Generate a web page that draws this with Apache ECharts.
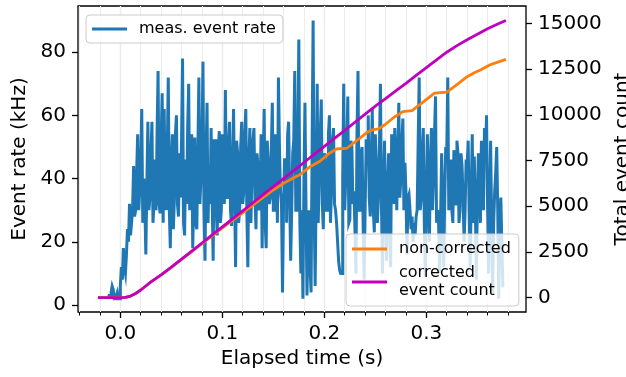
<!DOCTYPE html>
<html>
<head>
<meta charset="utf-8">
<script src="https://cdn.jsdelivr.net/npm/echarts@6/dist/echarts.min.js"></script>
<style>
  html, body { margin: 0; padding: 0; background: #fff; }
  #chart { width: 626px; height: 377px; }
</style>
</head>
<body>
<div id="chart"></div>
<script>
// ---- data ----
// measured event rate (kHz), sampled every 1 ms starting at t = -0.012 s
var rateStart = -0.012;
var rateStep = 0.001;
var rateValues = [
  2, 2, 3, 3, 4, 6, 5, 2, 2, 3,
  4, 2, 2, 6, 12, 8, 18, 12, 10, 16,
  24, 20, 32, 22, 26, 30, 44, 28, 30, 42,
  54, 30, 36, 46, 62, 26, 40, 32, 16, 38,
  58, 30, 34, 48, 58, 26, 32, 46, 30, 54,
  74, 32, 29, 52, 67, 26, 62, 34, 30, 48,
  72, 30, 18, 46, 54, 24, 34, 54, 60, 32,
  28, 48, 34, 52, 78, 26, 22, 46, 32, 56,
  70, 30, 36, 54, 18, 34, 53, 26, 24, 48,
  72, 32, 40, 50, 77, 30, 14, 46, 64, 26,
  42, 32, 56, 34, 14, 52, 52, 30, 22, 48,
  55, 26, 30, 54, 46, 32, 68, 34, 34, 50,
  58, 30, 25, 46, 62, 34, 12, 52, 48, 26,
  30, 50, 58, 32, 36, 54, 62, 30, 12, 46,
  56, 26, 40, 52, 56, 34, 24, 48, 44, 30,
  32, 54, 18, 44, 62, 26, 18, 52, 46, 32,
  34, 48, 64, 30, 30, 54, 48, 26, 72, 50,
  36, 32, 4, 32, 46, 46, 26, 54, 58, 34,
  14, 30, 48, 52, 74, 30, 30, 52, 84, 26,
  10, 30, 2, 40, 64, 32, 3, 20, 30, 12,
  4, 50, 90, 30, 6, 36, 70, 26, 40, 54,
  65, 32, 24, 48, 46, 30, 30, 54, 60, 26,
  36, 52, 56, 32, 30, 26, 20, 14, 11, 10,
  10, 40, 70, 30, 40, 48, 66, 26, 27, 52,
  50, 32, 36, 24, 10, 54, 74, 30, 30, 48,
  50, 26, 8, 30, 52, 52, 60, 34, 28, 46,
  62, 30, 23, 54, 44, 26, 34, 50, 70, 32,
  10, 36, 52, 30, 14, 38, 48, 26, 12, 54,
  48, 32, 56, 46, 30, 48, 64, 34, 40, 52,
  59, 30, 45, 36, 16, 34, 35, 30, 24, 28,
  20, 26, 22, 28, 30, 52, 72, 30, 34, 48,
  56, 26, 9, 34, 54, 32, 20, 46, 56, 30,
  40, 54, 66, 26, 30, 26, 10, 28, 48, 32,
  12, 34, 50, 48, 72, 30, 44, 46, 30, 26,
  49, 32, 32, 52, 48, 26, 30, 48, 44, 34,
  20, 30, 46, 44, 52, 30, 12, 34, 54, 26,
  47, 32, 8, 32, 48, 36, 26, 52, 48, 30,
  56, 46, 60, 32, 10, 30, 52, 26, 4, 26,
  36, 42, 50, 30, 2, 24, 34, 20, 6
];

// corrected total event count
var correctedTime = [-0.022, -0.010, 0.000, 0.005, 0.010, 0.015, 0.020, 0.025, 0.030, 0.040,
  0.050, 0.060, 0.070, 0.080, 0.090, 0.100, 0.110, 0.120, 0.130, 0.140,
  0.150, 0.160, 0.170, 0.180, 0.190, 0.200, 0.210, 0.220, 0.230, 0.240,
  0.250, 0.260, 0.270, 0.280, 0.290, 0.300, 0.310, 0.320, 0.330, 0.340,
  0.350, 0.360, 0.370, 0.378];
var correctedCount = [0, 0, 0, 20, 90, 230, 420, 640, 860, 1250,
  1670, 2110, 2550, 2990, 3430, 3870, 4310, 4750, 5190, 5630,
  6070, 6510, 6950, 7390, 7830, 8270, 8710, 9150, 9590, 10030,
  10470, 10880, 11300, 11720, 12150, 12580, 13000, 13420, 13780, 14100,
  14400, 14700, 14960, 15150];

// non-corrected total event count
var rawTime = [-0.022, 0.000, 0.005, 0.010, 0.015, 0.020, 0.025, 0.030, 0.040, 0.050,
  0.060, 0.070, 0.080, 0.090, 0.100, 0.110, 0.120, 0.130, 0.140, 0.150,
  0.160, 0.170, 0.176, 0.186, 0.196, 0.205, 0.212, 0.222, 0.232, 0.241,
  0.247, 0.253, 0.259, 0.268, 0.277, 0.286, 0.297, 0.308, 0.320, 0.330,
  0.340, 0.347, 0.353, 0.362, 0.370, 0.378];
var rawCount = [0, 0, 20, 90, 230, 420, 640, 860, 1250, 1660,
  2090, 2520, 2950, 3380, 3810, 4230, 4640, 5060, 5480, 5890,
  6250, 6560, 6720, 7160, 7470, 7900, 8130, 8170, 8600, 9000,
  9180, 9230, 9440, 9850, 10170, 10230, 10700, 11180, 11240, 11650,
  12080, 12300, 12450, 12720, 12880, 13030];

// tick labels
var xMajorTicks = [0.0, 0.1, 0.2, 0.3];
var xMinorTicks = [-0.04, -0.02, 0.0, 0.02, 0.04, 0.06, 0.08, 0.10, 0.12, 0.14, 0.16, 0.18,
  0.20, 0.22, 0.24, 0.26, 0.28, 0.30, 0.32, 0.34, 0.36, 0.38];
var rateTicks = [0, 20, 40, 60, 80];
var countTicks = [0, 2500, 5000, 7500, 10000, 12500, 15000];

// ---- build ----
var rateData = rateValues.map(function (v, i) {
  return [+(rateStart + i * rateStep).toFixed(3), v];
});
var corrData = correctedTime.map(function (t, i) { return [t, correctedCount[i]]; });
var rawData = rawTime.map(function (t, i) { return [t, rawCount[i]]; });

var FONT = 'DejaVu Sans';
var XMIN = -0.0415, XMAX = 0.3977;

var chart = echarts.init(document.getElementById('chart'), null, { renderer: 'canvas' });
var option = {
  animation: false,
  backgroundColor: '#ffffff',
  textStyle: { fontFamily: FONT },
  grid: {
    left: 78, right: 100, top: 6, bottom: 65,
    outerBoundsMode: 'none', containLabel: false,
    show: true, borderColor: '#000', borderWidth: 1.3, backgroundColor: 'transparent'
  },
  legend: [
    {
      data: ['meas. event rate'],
      left: 86, top: 15,
      orient: 'vertical',
      icon: 'rect', itemWidth: 35, itemHeight: 3,
      padding: [5, 7, 5, 6],
      backgroundColor: 'rgba(255,255,255,0.8)',
      borderColor: '#cccccc', borderWidth: 1, borderRadius: 4,
      selectedMode: false,
      textStyle: { fontFamily: FONT, fontSize: 16, color: '#000', lineHeight: 18, padding: [0, 0, 0, 7] }
    },
    {
      data: ['non-corrected', 'corrected\nevent count'],
      left: 346, top: 234,
      orient: 'vertical',
      icon: 'rect', itemWidth: 35, itemHeight: 3,
      itemGap: 6,
      padding: [6, 8, 6, 6],
      backgroundColor: 'rgba(255,255,255,0.8)',
      borderColor: '#cccccc', borderWidth: 1, borderRadius: 4,
      selectedMode: false,
      textStyle: { fontFamily: FONT, fontSize: 16, color: '#000', lineHeight: 18, padding: [0, 0, 0, 7] }
    }
  ],
  xAxis: [
    {
      type: 'value', min: XMIN, max: XMAX, position: 'bottom',
      axisLine: { show: false, onZero: false },
      axisTick: { show: true, customValues: xMajorTicks, length: 6, lineStyle: { color: '#000', width: 1.3 } },
      axisLabel: {
        customValues: xMajorTicks, formatter: function (v) { return v.toFixed(1); },
        fontFamily: FONT, fontSize: 20, color: '#000', margin: 12
      },
      splitLine: { show: true, lineStyle: { color: '#dcdcdc', width: 1.3 } },
      name: 'Elapsed time (s)', nameLocation: 'middle', nameGap: 37,
      nameTextStyle: { fontFamily: FONT, fontSize: 20, color: '#000' }
    },
    {
      type: 'value', min: XMIN, max: XMAX, position: 'bottom',
      axisLine: { show: false, onZero: false },
      axisTick: { show: true, customValues: xMinorTicks, length: 3.5, lineStyle: { color: '#000', width: 1 } },
      axisLabel: { show: false },
      splitLine: { show: true, lineStyle: { color: '#ececec', width: 1 } }
    }
  ],
  yAxis: [
    {
      type: 'value', min: -2.2, max: 94.6, position: 'left',
      axisLine: { show: false, onZero: false },
      axisTick: { show: true, customValues: rateTicks, length: 6, lineStyle: { color: '#000', width: 1.3 } },
      axisLabel: { customValues: rateTicks, fontFamily: FONT, fontSize: 20, color: '#000', margin: 12 },
      splitLine: { show: false },
      name: 'Event rate (kHz)', nameLocation: 'middle', nameGap: 48, nameRotate: 90,
      nameTextStyle: { fontFamily: FONT, fontSize: 20, color: '#000' }
    },
    {
      type: 'value', min: -782, max: 15946, position: 'right',
      axisLine: { show: false, onZero: false },
      axisTick: { show: true, customValues: countTicks, length: 6, lineStyle: { color: '#000', width: 1.3 } },
      axisLabel: {
        customValues: countTicks, formatter: function (v) { return String(v); },
        fontFamily: FONT, fontSize: 20, color: '#000', margin: 12
      },
      splitLine: { show: false },
      name: 'Total event count', nameLocation: 'middle', nameGap: 84, nameRotate: 90,
      nameTextStyle: { fontFamily: FONT, fontSize: 20, color: '#000' }
    }
  ],
  series: [
    {
      name: 'meas. event rate', type: 'line', xAxisIndex: 0, yAxisIndex: 0,
      data: rateData, showSymbol: false, symbol: 'none', step: 'start',
      lineStyle: { color: '#1f77b4', width: 3, join: 'miter' },
      itemStyle: { color: '#1f77b4' }, z: 2
    },
    {
      name: 'non-corrected', type: 'line', xAxisIndex: 0, yAxisIndex: 1,
      data: rawData, showSymbol: false, symbol: 'none',
      lineStyle: { color: '#ff7f0e', width: 2.8 },
      itemStyle: { color: '#ff7f0e' }, z: 3
    },
    {
      name: 'corrected\nevent count', type: 'line', xAxisIndex: 0, yAxisIndex: 1,
      data: corrData, showSymbol: false, symbol: 'none',
      lineStyle: { color: '#bf00bf', width: 2.8 },
      itemStyle: { color: '#bf00bf' }, z: 3
    }
  ]
};
chart.setOption(option);
</script>
</body>
</html>
